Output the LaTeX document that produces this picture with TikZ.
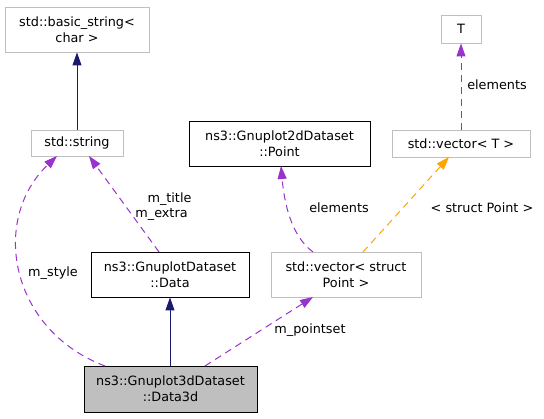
\documentclass[tikz,border=0pt]{standalone}
\usepackage{fontspec}
\setmainfont{DejaVu Sans}
\usetikzlibrary{arrows.meta}
\definecolor{navyc}{HTML}{191970}
\definecolor{purp}{HTML}{9A32CD}
\definecolor{orng}{HTML}{FFA500}
\definecolor{lgray}{HTML}{BFBFBF}
\tikzset{
  cls/.style={draw=#1, line width=0.9pt, inner sep=0pt, align=center, font=\fontsize{12.8}{16}\selectfont},
  inh/.style={draw=navyc, line width=1pt, -{Triangle[length=13pt,width=9pt]}},
  usage/.style={draw=purp, line width=1pt, dashed, dash pattern=on 7pt off 5pt, -{Triangle[length=13pt,width=9pt]}},
  tmpl/.style={draw=orng, line width=1pt, dashed, dash pattern=on 7pt off 5pt, -{Triangle[length=13pt,width=9pt]}},
  lbl/.style={inner sep=0pt, font=\fontsize{12.8}{16}\selectfont}
}
\begin{document}
\begin{tikzpicture}[x=1pt,y=-1pt]
\useasboundingbox (0,0) rectangle (544,419);
\node[cls=lgray, minimum width=144pt, minimum height=45pt] (bs) at (77,29.5) {std::basic\_string<\\char >};
\node[cls=lgray, minimum width=92pt, minimum height=26pt] (str) at (77,143) {std::string};
\node[cls=black, minimum width=181pt, minimum height=45pt] (pt) at (279.5,143.5) {ns3::Gnuplot2dDataset\\::Point};
\node[cls=lgray, minimum width=40pt, minimum height=28pt] (T) at (461,29) {T};
\node[cls=lgray, minimum width=138pt, minimum height=27pt] (vt) at (461,143.5) {std::vector< T >};
\node[cls=black, minimum width=158pt, minimum height=45pt] (data) at (170,274.5) {ns3::GnuplotDataset\\::Data};
\node[cls=lgray, minimum width=150pt, minimum height=45pt] (vs) at (346,274.5) {std::vector< struct\\Point >};
\node[cls=black, fill=lgray, minimum width=173pt, minimum height=46pt] (d3) at (170.5,389) {ns3::Gnuplot3dDataset\\::Data3d};

\coordinate (d3a) at (105,366);
\coordinate (d3b) at (205,366);
\coordinate (stra) at (57,156);
\coordinate (strb) at (89,156);
\coordinate (dataa) at (159,252);
\coordinate (vsa) at (313,252);
\coordinate (vsb) at (363,252);
\coordinate (vsin) at (313,297);
\coordinate (pta) at (281,166);
\coordinate (vta) at (449,157);

\draw[inh] (str.north) -- (bs.south);
\draw[inh] (d3.north -| data.south) -- (data.south);
\draw[usage] (d3a) .. controls (10,330) and (-10,220) .. (stra);
\draw[usage] (dataa) -- (strb);
\draw[usage] (d3b) -- (vsin);
\draw[usage] (vsa) .. controls (290,235) and (284,200) .. (pta);
\draw[tmpl] (vsb) -- (vta);
\draw[usage] (vt.north) -- (T.south);

\node[lbl] (l1) at (53,273) {m\_style};
\node[lbl] (l2) at (169.5,199) {m\_title};
\node[lbl] (l3) at (161.5,215) {m\_extra};
\node[lbl] (l4) at (310,330) {m\_pointset};
\node[lbl] (l5) at (339,208) {elements};
\node[lbl] (l6) at (482,208) {< struct Point >};
\node[lbl] (l7) at (497,85) {elements};
\end{tikzpicture}
\end{document}
